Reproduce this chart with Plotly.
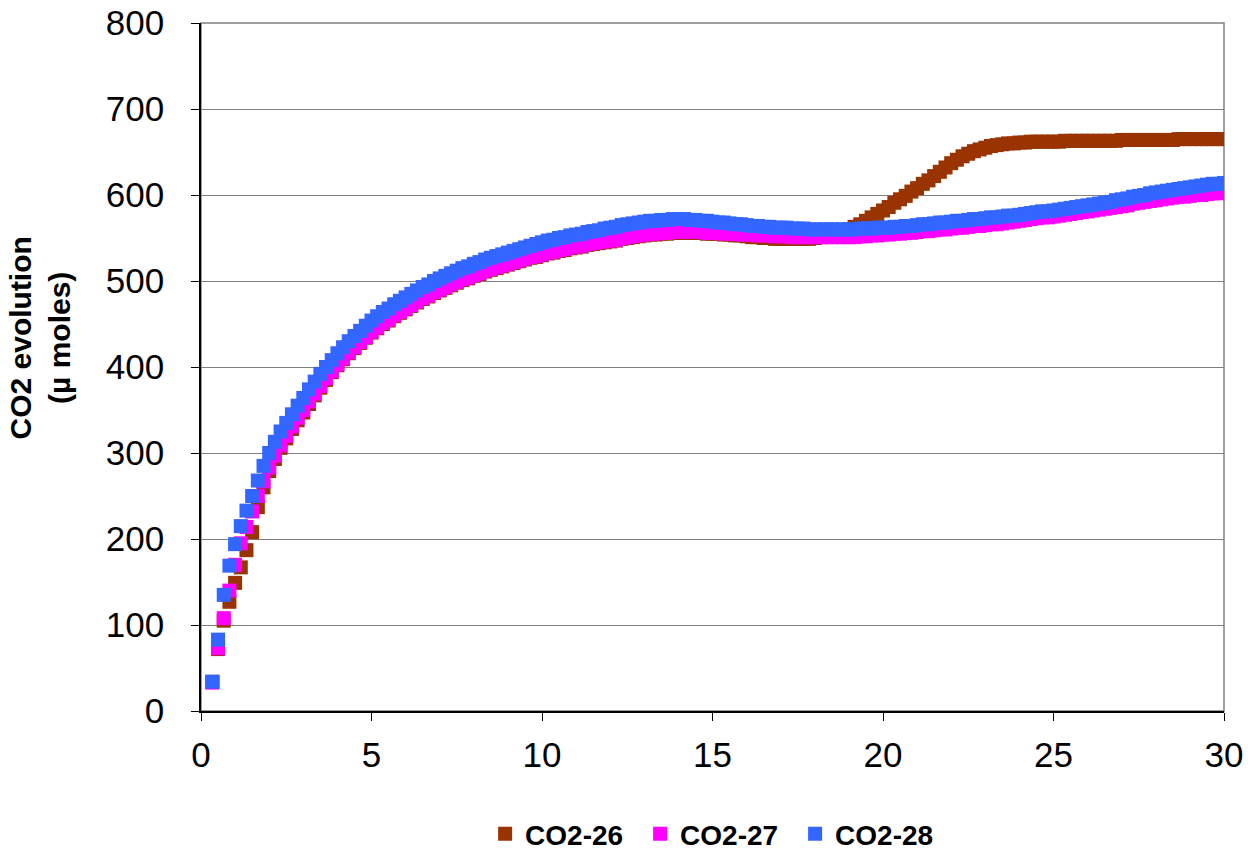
import plotly.graph_objects as go

# Time stamps (seconds)
times_s = [
    20, 30, 40, 50, 60, 70, 80, 90, 100, 110, 120, 130, 140, 150, 160, 170, 180,
    190, 200, 210, 220, 230, 240, 250, 260, 270, 280, 290, 300,
    310, 320, 330, 340, 350, 360, 370, 380, 390, 400, 410, 420,
    430, 440, 450, 460, 470, 480, 490, 500, 510, 520, 530, 540,
    550, 560, 570, 580, 590, 600, 610, 620, 630, 640, 650, 660,
    670, 680, 690, 700, 710, 720, 730, 740, 750, 760, 770, 780,
    790, 800, 810, 820, 830, 840, 850, 860, 870, 880, 890, 900,
    910, 920, 930, 940, 950, 960, 970, 980, 990, 1000, 1010, 1020,
    1030, 1040, 1050, 1060, 1070, 1080, 1090, 1100, 1110, 1120, 1130, 1140,
    1150, 1160, 1170, 1180, 1190, 1200, 1210, 1220, 1230, 1240, 1250, 1260,
    1270, 1280, 1290, 1300, 1310, 1320, 1330, 1340, 1350, 1360, 1370, 1380,
    1390, 1400, 1410, 1420, 1430, 1440, 1450, 1460, 1470, 1480, 1490, 1500,
    1510, 1520, 1530, 1540, 1550, 1560, 1570, 1580, 1590, 1600, 1610, 1620,
    1630, 1640, 1650, 1660, 1670, 1680, 1690, 1700, 1710, 1720, 1730, 1740,
    1750, 1760, 1770, 1780, 1790, 1800,
]

co2_26 = [
    34, 72, 105, 127, 149, 167, 187, 208, 237, 260, 279, 293, 306, 317, 328, 338, 347,
    357, 367, 376, 385, 394, 402, 409, 416, 422, 428, 434, 440,
    445, 450, 454, 459, 463, 467, 471, 475, 479, 482, 486, 489,
    492, 495, 498, 501, 503, 506, 508, 511, 513, 515, 517, 519,
    521, 523, 525, 527, 528, 530, 532, 533, 535, 536, 538, 539,
    540, 542, 543, 544, 545, 546, 547, 549, 550, 551, 552, 553,
    554, 554, 555, 555, 556, 556, 556, 556, 556, 556, 555, 555,
    555, 554, 554, 553, 553, 552, 551, 551, 550, 550, 549, 549,
    549, 549, 549, 549, 549, 550, 551, 552, 553, 555, 557, 560,
    563, 566, 570, 574, 578, 582, 586, 591, 595, 599, 604, 608,
    613, 617, 622, 627, 632, 637, 641, 645, 648, 651, 653, 655,
    657, 658, 659, 660, 660, 661, 661, 662, 662, 662, 662, 662,
    662, 663, 663, 663, 663, 663, 663, 663, 663, 663, 663, 664,
    664, 664, 664, 664, 664, 664, 664, 664, 664, 665, 665, 665,
    665, 665, 665, 665, 665, 665,
]

co2_27 = [
    33, 73, 108, 140, 170, 195, 214, 232, 250, 267, 283, 297, 309, 320, 331, 341, 350,
    360, 369, 378, 387, 395, 403, 410, 417, 423, 429, 435, 441,
    446, 451, 455, 460, 464, 468, 472, 476, 480, 483, 487, 490,
    493, 496, 499, 502, 504, 507, 509, 512, 514, 516, 518, 520,
    522, 524, 526, 528, 529, 531, 533, 534, 536, 537, 539, 540,
    541, 543, 544, 545, 546, 547, 548, 550, 551, 552, 553, 554,
    555, 555, 556, 556, 557, 557, 557, 557, 557, 557, 556, 556,
    556, 555, 555, 555, 554, 554, 554, 553, 553, 553, 552, 552,
    552, 551, 551, 551, 551, 551, 551, 551, 551, 551, 551, 551,
    551, 552, 552, 553, 553, 554, 554, 555, 555, 556, 556, 557,
    558, 558, 559, 560, 560, 561, 562, 562, 563, 564, 564, 565,
    566, 566, 567, 568, 569, 570, 571, 572, 573, 574, 574, 575,
    576, 577, 578, 579, 580, 581, 582, 583, 584, 585, 586, 587,
    588, 590, 591, 592, 593, 594, 595, 596, 597, 598, 598, 599,
    600, 600, 601, 602, 602, 603,
]

co2_28 = [
    34, 83, 135, 169, 194, 215, 233, 250, 268, 285, 300, 313, 325, 335, 345, 355, 364,
    374, 383, 392, 400, 408, 416, 423, 430, 436, 442, 448, 454,
    459, 464, 468, 473, 477, 481, 485, 489, 493, 496, 500, 503,
    506, 509, 512, 515, 517, 520, 522, 525, 527, 529, 531, 533,
    535, 537, 539, 541, 543, 545, 547, 548, 550, 551, 553, 554,
    555, 557, 558, 559, 561, 562, 563, 565, 566, 567, 568, 569,
    570, 570, 571, 571, 572, 572, 572, 571, 571, 570, 570, 569,
    568, 568, 567, 566, 566, 565, 564, 564, 563, 563, 562, 562,
    562, 561, 561, 561, 560, 560, 560, 560, 560, 560, 560, 560,
    560, 561, 561, 561, 562, 562, 562, 563, 563, 564, 564, 565,
    566, 566, 567, 568, 568, 569, 570, 570, 571, 572, 572, 573,
    574, 574, 575, 576, 576, 577, 578, 579, 580, 581, 581, 582,
    583, 584, 585, 586, 587, 588, 589, 590, 591, 592, 594, 595,
    596, 598, 599, 600, 602, 603, 604, 605, 606, 607, 608, 609,
    610, 611, 612, 613, 613, 614,
]

series_names = ["CO2-26", "CO2-27", "CO2-28"]
series_values = [co2_26, co2_27, co2_28]
series_colors = ["#993300", "#FF00FF", "#3366FF"]

x_ticks = [0, 5, 10, 15, 20, 25, 30]
y_ticks = [0, 100, 200, 300, 400, 500, 600, 700, 800]

minutes = [t / 60 for t in times_s]

FONT = "Liberation Sans, Arial, sans-serif"

fig = go.Figure()
for name, vals, col in zip(series_names, series_values, series_colors):
    fig.add_trace(go.Scatter(
        x=minutes, y=vals, name=name, mode="markers",
        marker=dict(symbol="square", size=14, color=col, line=dict(width=0)),
        cliponaxis=True,
    ))

fig.update_layout(
    width=1248, height=853,
    margin=dict(l=201, r=24, t=23, b=142, autoexpand=False),
    paper_bgcolor="white", plot_bgcolor="white",
    font=dict(family=FONT, color="black"),
    showlegend=True,
    legend=dict(
        orientation="h", x=0.505, xanchor="center", y=-0.179, yanchor="middle",
        font=dict(family=FONT, size=28, color="black", weight="bold"),
        itemwidth=30, traceorder="normal",
        entrywidth=110, entrywidthmode="pixels", borderwidth=0,
    ),
    xaxis=dict(
        range=[0, 30], tickvals=x_ticks, ticktext=[str(v) for v in x_ticks],
        showgrid=False, zeroline=False, automargin=False,
        showline=True, linecolor="black", linewidth=1.5,
        ticks="outside", ticklen=8, tickcolor="black", tickwidth=1,
        tickfont=dict(family=FONT, size=35, color="black"),
        ticklabelstandoff=4,
    ),
    yaxis=dict(
        range=[0, 800], tickvals=y_ticks, ticktext=[str(v) for v in y_ticks],
        showgrid=True, gridcolor="#808080", gridwidth=1, zeroline=False,
        automargin=False,
        showline=True, linecolor="black", linewidth=1.5,
        ticks="outside", ticklen=8, tickcolor="black", tickwidth=1,
        tickfont=dict(family=FONT, size=35, color="black"),
        ticklabelstandoff=20,
    ),
    shapes=[dict(type="rect", xref="paper", yref="paper", x0=0, x1=1, y0=0, y1=1,
                 line=dict(color="#808080", width=1.5), layer="below")],
    annotations=[dict(
        text="<b>CO2 evolution<br>(µ moles)</b>", xref="paper", yref="paper",
        x=-0.157, y=0.542, xanchor="center", yanchor="middle", textangle=-90,
        showarrow=False, font=dict(family=FONT, size=30, color="black"),
    )],
)

fig.write_html("out.html")
